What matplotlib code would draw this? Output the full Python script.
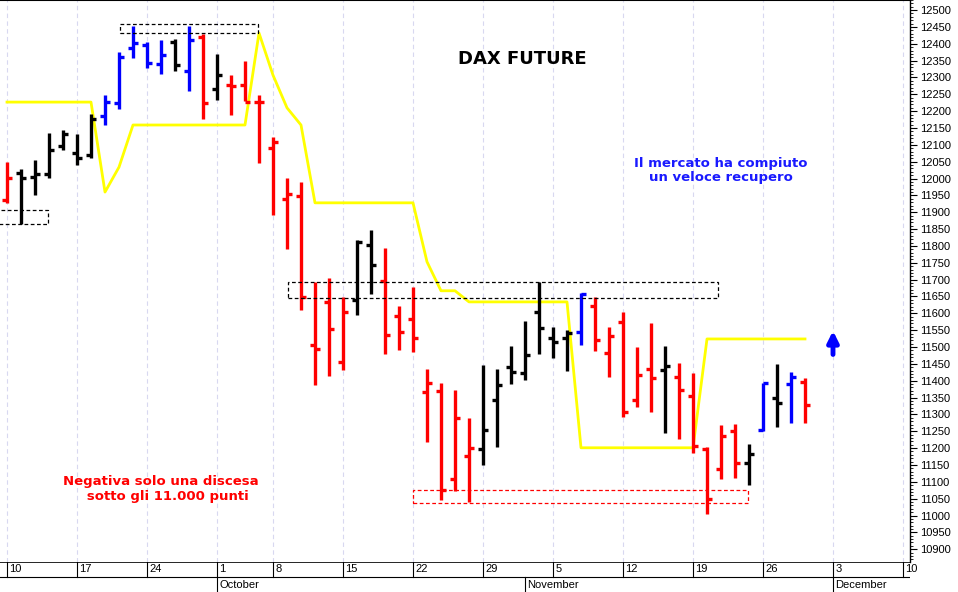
import matplotlib
matplotlib.use("Agg")
import matplotlib.pyplot as plt
from matplotlib.patches import Rectangle

# Trading-day index 0..57 (10 Sep 2018 .. 29 Nov 2018, 3 Oct holiday)
opens  = [11937,12017,12005,12014,12097,12076,12070,12186,12224,12388,12396,12340,12405,12319,12420,
          12266,12278,12278,12227,12091,11940,11949,11506,11634,11456,11640,11803,11696,11592,11584,
          11367,11370,11109,11177,11198,11343,11441,11423,11604,11527,11527,11545,11622,11483,11575,
          11343,11435,11432,11411,11355,11198,11138,11251,11156,11254,11349,11391,11397]
highs  = [12049,12029,12055,12135,12144,12132,12192,12248,12376,12453,12405,12411,12414,12453,12429,
          12370,12307,12349,12248,12124,12002,11990,11693,11705,11649,11818,11848,11794,11622,11678,
          11435,11394,11373,11290,11447,11435,11503,11578,11693,11560,11551,11661,11649,11560,11604,
          11500,11572,11503,11453,11423,11204,11269,11272,11213,11394,11450,11426,11409]
lows   = [11928,11865,11951,12002,12085,12040,12061,12159,12207,12358,12328,12310,12319,12260,12177,
          12233,12189,12230,12046,11892,11791,11610,11388,11414,11432,11595,11658,11480,11492,11486,
          11219,11046,11073,11041,11150,11204,11391,11403,11480,11468,11429,11506,11489,11411,11293,
          11322,11308,11245,11227,11186,11005,11109,11112,11091,11251,11263,11275,11275]
closes = [12002,12002,12014,12085,12132,12061,12177,12227,12361,12402,12343,12367,12337,12411,12224,
          12307,12275,12227,12227,12109,11954,11649,11495,11554,11604,11812,11744,11536,11545,11527,
          11394,11076,11290,11201,11254,11388,11426,11477,11557,11515,11542,11658,11521,11533,11308,
          11417,11408,11444,11373,11207,11049,11236,11156,11183,11394,11334,11411,11328]
signal = ["r","k","k","k","k","k","k","b","b","b","b","b","k","b","r",
          "k","r","r","r","r","r","r","r","r","r","k","k","r","r","r",
          "r","r","r","r","k","k","k","k","k","k","k","b","r","r","r",
          "r","r","k","r","r","r","r","r","k","b","k","b","r"]
stop_line = [12227]*7 + [11960,12034] + [12159]*9 + [12432,12307,12210,12159] + [11928]*8 + \
            [11753,11667,11667] + [11634]*8 + [11201]*9 + [11524]*8

week_pos    = [0,5,10,15,19,24,29,34,39,44,49,54,59,64]
week_labels = ["10","17","24","1","8","15","22","29","5","12","19","26","3","10"]
month_pos    = [15,37,59]
month_labels = ["October","November","December"]

boxes = [(-0.6,2.9,11865,11907,"black"),(8.1,17.9,12432,12459,"black"),
         (20.1,50.8,11646,11693,"black"),(29.0,52.9,11038,11076,"red")]

colmap = {"r":"#ff0000","k":"#000000","b":"#0000ff"}
plt.rcParams['font.family'] = ['Liberation Sans','DejaVu Sans']

fig = plt.figure(figsize=(9.58,5.92), dpi=100)
W, H = 958, 592
ax = fig.add_axes([0, 30/H, 910/W, 1-30/H])
xl = (-0.5, 64.5)
ax.set_xlim(*xl)
ax.set_ylim(10862, 12530)

for p in week_pos:
    ax.axvline(p, color="#d8d8f0", lw=0.8, ls=(0,(4,3)), zorder=0)

ax.plot(range(len(stop_line)), stop_line, color="#ffff00", lw=2, zorder=2)

tk = 0.38
for i in range(len(opens)):
    c = colmap[signal[i]]
    ax.plot([i,i],[lows[i],highs[i]], color=c, lw=2.4, solid_capstyle="butt", zorder=3)
    ax.plot([i-tk,i],[opens[i],opens[i]], color=c, lw=2.4, solid_capstyle="butt", zorder=3)
    ax.plot([i,i+tk],[closes[i],closes[i]], color=c, lw=2.4, solid_capstyle="butt", zorder=3)

for x0,x1,y0,y1,c in boxes:
    ax.add_patch(Rectangle((x0,y0),x1-x0,y1-y0, fill=False, ec=c, lw=0.9, ls=(0,(3,2)), zorder=4))

ax.text(36.8, 12355, "DAX FUTURE", ha="center", va="center", fontsize=13, fontweight="bold",
        family=["DejaVu Sans"])
ax.text(51, 12025, "Il mercato ha compiuto\nun veloce recupero", ha="center", va="center",
        fontsize=9.5, fontweight="bold", color="#1a1aff", family=["DejaVu Sans"], linespacing=1.1)
ax.text(11, 11080, "Negativa solo una discesa\n   sotto gli 11.000 punti", ha="center", va="center",
        fontsize=9.5, fontweight="bold", color="#ff0000", family=["DejaVu Sans"], linespacing=1.2)
ax.annotate("", xy=(59.0, 11548), xytext=(59.0, 11478),
            arrowprops=dict(arrowstyle="-|>", lw=3.5, mutation_scale=16,
                            color="#0000ff", shrinkA=0, shrinkB=0))

ax.yaxis.tick_right()
ax.set_yticks(range(10900, 12501, 50))
ax.set_yticks(range(10870, 12531, 10), minor=True)
ax.tick_params(axis="y", which="major", length=5, labelsize=8, colors="black", pad=2)
ax.tick_params(axis="y", which="minor", length=2.5)
ax.set_xticks([])
for s in ["top","left","bottom"]:
    ax.spines[s].set_visible(s == "top")
ax.spines["top"].set_linewidth(1.5)
ax.spines["right"].set_linewidth(1)

# date strip
bx = fig.add_axes([0, 0, 910/W, 30/H])
bx.set_xlim(*xl); bx.set_ylim(0, 2)
bx.axis("off")
bx.axhline(2, color="black", lw=1.2)
bx.axhline(1, color="black", lw=0.8)
for p, lab in zip(week_pos, week_labels):
    bx.plot([p,p],[1,2], color="black", lw=0.8)
    bx.text(p+0.15, 1.5, lab, ha="left", va="center", fontsize=8)
for p, lab in zip(month_pos, month_labels):
    bx.plot([p,p],[0,1], color="black", lw=0.8)
    bx.text(p+0.15, 0.5, lab, ha="left", va="center", fontsize=8)

fig.savefig("out.png", dpi=100)
